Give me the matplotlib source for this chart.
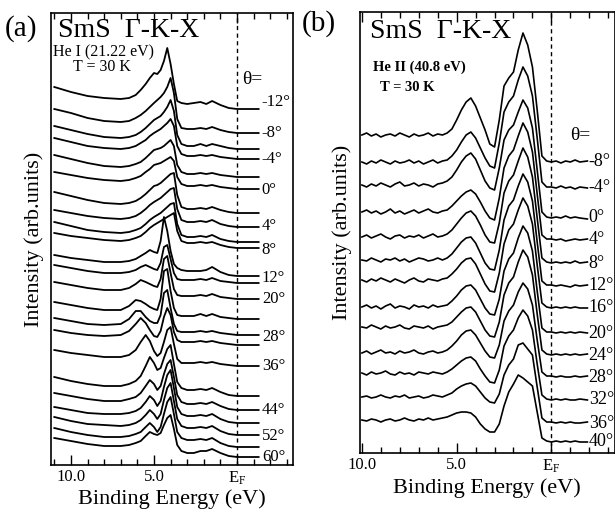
import matplotlib
matplotlib.use('Agg')
import matplotlib.pyplot as plt
import numpy as np
from matplotlib.ticker import MultipleLocator

plt.rcParams['font.family'] = ['Liberation Serif', 'DejaVu Serif']
plt.rcParams['mathtext.fontset'] = 'stix'

# ---------------- Panel (a): He I ----------------
energy_a = [11.0, 10.0, 9.0, 8.0, 7.0, 6.5, 6.1, 5.8, 5.5, 5.25, 5.0, 4.8, 4.6, 4.4,
            4.2, 4.0, 3.8, 3.6, 3.35, 3.0, 2.6, 2.2, 1.85, 1.5, 1.0, 0.5, 0.0, -1.3]
offset_a = [356, 332, 316, 306, 288, 276, 252, 238, 223, 217, 189, 182, 166, 146,
            130, 120, 99, 69, 55, 42, 30, 18, 8]
spectra_a = [
    [22, 17, 13, 11, 10, 11, 14, 19, 25, 31, 36, 35, 39, 48, 61, 45, 25, 8, 6, 5, 6, 7, 5, 8, 4, 1, 0, 0],
    [24, 20, 15, 12, 11, 12, 15, 18, 22, 26, 30, 33, 36, 40, 46, 55, 40, 14, 5, 4, 4, 5, 4, 6, 3, 1, 0, 0],
    [23, 19, 15, 12, 11, 12, 14, 17, 21, 25, 29, 31, 33, 37, 42, 49, 38, 14, 5, 3, 3, 5, 3, 5, 3, 1, 0, 0],
    [21, 17, 13, 11, 10, 11, 13, 16, 19, 23, 26, 28, 30, 33, 36, 40, 33, 13, 5, 3, 3, 4, 3, 4, 2, 1, 0, 0],
    [22, 18, 14, 11, 10, 11, 13, 15, 19, 23, 27, 28, 29, 31, 34, 37, 31, 12, 5, 3, 3, 4, 3, 4, 2, 1, 0, 0],
    [17, 14, 11, 9, 8, 9, 11, 13, 17, 20, 24, 25, 26, 28, 30, 32, 28, 12, 5, 3, 3, 4, 3, 4, 2, 1, 0, 0],
    [21, 17, 13, 10, 9, 10, 12, 15, 19, 23, 27, 28, 30, 33, 36, 39, 40, 18, 6, 4, 4, 5, 4, 6, 3, 1, 0, 0],
    [17, 14, 11, 9, 8, 9, 11, 14, 18, 22, 25, 27, 29, 32, 35, 38, 39, 18, 7, 5, 5, 6, 5, 7, 3, 1, 0, 0],
    [20, 16, 12, 10, 9, 10, 12, 14, 18, 22, 25, 27, 29, 32, 35, 38, 39, 18, 7, 5, 5, 6, 5, 7, 3, 1, 0, 0],
    [15, 12, 10, 8, 7, 8, 10, 12, 16, 20, 23, 25, 27, 29, 31, 33, 35, 17, 7, 5, 5, 6, 5, 6, 3, 1, 0, 0],
    [21, 18, 16, 14, 14, 15, 17, 20, 23, 26, 24, 23, 35, 59, 45, 25, 12, 8, 6, 5, 5, 5, 6, 9, 4, 1, 0, 0],
    [18, 15, 12, 10, 10, 11, 13, 16, 18, 16, 14, 13, 20, 36, 38, 24, 10, 4, 3, 3, 3, 4, 3, 5, 2, 1, 0, 0],
    [17, 14, 11, 9, 9, 11, 15, 19, 17, 15, 13, 12, 20, 40, 43, 26, 10, 4, 3, 3, 3, 4, 3, 5, 2, 1, 0, 0],
    [17, 14, 11, 9, 9, 13, 19, 18, 15, 12, 10, 9, 20, 48, 50, 28, 11, 4, 3, 3, 3, 5, 3, 5, 2, 1, 0, 0],
    [17, 14, 11, 10, 11, 16, 24, 24, 18, 14, 12, 12, 20, 42, 45, 27, 11, 4, 3, 3, 3, 4, 3, 4, 2, 1, 0, 0],
    [15, 12, 10, 9, 10, 14, 21, 27, 22, 15, 9, 8, 14, 28, 37, 30, 13, 5, 3, 3, 3, 4, 3, 4, 2, 1, 0, 0],
    [16, 13, 11, 9, 9, 11, 16, 24, 31, 25, 15, 10, 13, 24, 36, 39, 22, 7, 3, 3, 3, 4, 3, 4, 2, 1, 0, 0],
    [19, 15, 12, 10, 10, 12, 15, 20, 30, 39, 33, 26, 28, 38, 47, 51, 32, 14, 8, 6, 6, 7, 6, 8, 4, 1, 0, 0],
    [17, 14, 11, 9, 9, 11, 13, 17, 24, 30, 26, 20, 24, 36, 46, 50, 33, 15, 8, 6, 6, 7, 6, 8, 4, 1, 0, 0],
    [16, 13, 10, 9, 9, 10, 12, 15, 21, 27, 23, 17, 22, 36, 48, 53, 35, 16, 9, 7, 7, 8, 7, 9, 4, 1, 0, 0],
    [18, 14, 11, 10, 9, 10, 12, 15, 20, 25, 21, 16, 21, 35, 47, 52, 34, 16, 9, 7, 7, 8, 7, 9, 4, 1, 0, 0],
    [19, 15, 12, 10, 10, 11, 13, 15, 20, 24, 20, 15, 20, 33, 45, 50, 33, 15, 9, 7, 7, 8, 7, 9, 4, 1, 0, 0],
    [19, 16, 13, 11, 11, 12, 14, 16, 21, 25, 23, 22, 24, 32, 39, 42, 28, 12, 6, 4, 4, 6, 6, 8, 4, 1, 0, 0],
]
labels_a = ['-12°', '-8°', '-4°', '0°', '4°', '8°', '12°', '20°', '28°', '36°', '44°', '52°', '60°']
label_y_a = [363, 332, 306, 275, 239, 215, 187, 166, 128, 99, 55, 29, 8]

# ---------------- Panel (b): He II ----------------
energy_b = [10.0, 9.75, 9.5, 9.25, 9.0, 8.75, 8.5, 8.25, 8.0, 7.75, 7.5, 7.25, 7.0, 6.75,
            6.5, 6.25, 6.0, 5.75, 5.5, 5.25, 5.0, 4.75, 4.5, 4.25, 4.0, 3.75, 3.5, 3.25,
            3.0, 2.75, 2.5, 2.25, 2.0, 1.75, 1.5, 1.25, 1.0, 0.75, 0.5, 0.25, 0.0, -0.25,
            -0.5, -0.75, -1.0, -1.25, -1.5, -1.9]
offset_b = [291, 265, 235, 213, 190, 167, 145, 120, 98, 76, 53, 30, 11]
spectra_b = [
    [27, 29, 26, 28, 25, 27, 28, 26, 29, 27, 25, 28, 26, 27, 29, 26, 28, 27,
     29, 33, 42, 52, 60, 64, 56, 44, 32, 18, 15, 42, 76, 84, 90, 112, 129, 117, 95, 52, 6, 1,
     0, 1, -1, 1, 0, 2, 0, 1],
    [26, 24, 27, 25, 28, 26, 24, 27, 25, 26, 28, 25, 27, 24, 26, 28, 25, 27,
     28, 32, 38, 46, 53, 56, 50, 40, 30, 22, 20, 45, 76, 86, 92, 108, 121, 112, 92, 50, 6, 1,
     1, 0, 2, 0, 1, -1, 1, 0],
    [33, 31, 34, 32, 35, 33, 31, 34, 36, 32, 33, 35, 32, 34, 33, 31, 34, 35,
     37, 41, 48, 56, 62, 65, 59, 48, 37, 30, 28, 50, 78, 88, 93, 106, 118, 110, 90, 48, 6, 1,
     0, 1, 0, 2, 0, 1, 0, -1],
    [28, 30, 27, 29, 26, 28, 31, 27, 29, 26, 28, 30, 27, 29, 31, 28, 27, 29,
     30, 34, 39, 44, 48, 50, 46, 38, 29, 22, 20, 42, 72, 84, 90, 104, 117, 108, 88, 46, 5, 1,
     1, 0, 1, -1, 0, 1, 0, 1],
    [26, 28, 25, 27, 29, 26, 24, 27, 28, 25, 27, 26, 28, 25, 27, 29, 26, 27,
     29, 33, 39, 45, 50, 52, 47, 38, 28, 21, 20, 40, 70, 82, 88, 102, 115, 106, 86, 45, 5, 1,
     0, 1, 0, 1, 0, 2, 0, 1],
    [26, 25, 28, 26, 24, 27, 26, 28, 25, 27, 24, 26, 28, 27, 25, 26, 28, 26,
     28, 32, 38, 44, 48, 49, 43, 33, 23, 17, 16, 36, 66, 80, 86, 100, 112, 104, 85, 44, 5, 1,
     1, 0, 1, 0, -1, 1, 0, 1],
    [28, 26, 29, 27, 30, 28, 26, 29, 27, 25, 28, 30, 27, 26, 29, 28, 27, 29,
     30, 34, 39, 45, 49, 50, 44, 34, 24, 17, 16, 35, 64, 78, 84, 98, 110, 102, 84, 43, 5, 1,
     0, 1, 0, 1, 0, 1, 0, 0],
    [26, 28, 25, 27, 24, 27, 29, 25, 27, 26, 24, 28, 26, 27, 25, 28, 26, 27,
     28, 32, 37, 43, 47, 48, 43, 34, 25, 19, 18, 34, 62, 74, 80, 95, 107, 100, 82, 42, 5, 1,
     1, 0, 1, 0, 1, 0, 1, 0],
    [28, 27, 30, 28, 26, 29, 27, 28, 30, 27, 26, 29, 28, 27, 29, 26, 28, 29,
     30, 33, 38, 43, 47, 48, 43, 34, 25, 19, 18, 33, 60, 72, 78, 93, 105, 98, 80, 41, 5, 1,
     0, 1, 0, 1, 0, 1, 0, 1],
    [24, 26, 23, 25, 27, 24, 25, 23, 26, 24, 25, 27, 24, 23, 25, 26, 24, 25,
     27, 31, 36, 42, 46, 47, 42, 34, 26, 20, 19, 32, 56, 66, 72, 85, 94, 88, 72, 37, 5, 1,
     1, 0, 1, 0, 0, 1, 0, 1],
    [27, 25, 28, 26, 27, 29, 26, 25, 28, 26, 27, 25, 28, 27, 26, 28, 27, 26,
     28, 31, 35, 39, 42, 43, 39, 31, 24, 18, 17, 30, 54, 64, 70, 82, 90, 84, 70, 36, 5, 1,
     0, 1, 0, 1, 0, 0, 1, 0],
    [26, 27, 25, 26, 28, 26, 25, 27, 26, 28, 25, 26, 27, 25, 26, 28, 27, 26,
     28, 30, 34, 37, 39, 40, 37, 31, 25, 21, 20, 29, 48, 58, 64, 78, 80, 74, 68, 36, 5, 1,
     1, 0, 1, 0, 1, 0, 0, 1],
    [22, 21, 23, 22, 20, 22, 23, 21, 22, 24, 22, 21, 23, 22, 24, 22, 23, 24,
     25, 27, 29, 30, 30, 29, 25, 18, 13, 10, 10, 18, 36, 50, 58, 67, 64, 60, 56, 30, 4, 1,
     0, 1, 0, 1, 0, 1, 0, 0],
]
labels_b = ['-8°', '-4°', '0°', '4°', '8°', '12°', '16°', '20°', '24°', '28°', '32°', '36°', '40°']

fig = plt.figure(figsize=(6.15, 5.12), dpi=100)
axa = fig.add_axes([51 / 615, 47 / 512, 242 / 615, 452 / 512])
axb = fig.add_axes([360 / 615, 59 / 512, 254.5 / 615, 441 / 512])

for off, vals in zip(offset_a, spectra_a):
    axa.plot(energy_a, np.array(vals) + off, color='k', lw=1.3)
for lab, y in zip(labels_a, label_y_a):
    axa.text(-1.49, y, lab, fontsize=12, ha='left', va='center')
axa.set_xlim(11.2, -3.37)
axa.set_ylim(0, 452)

for off, vals in zip(offset_b, spectra_b):
    axb.plot(energy_b, np.array(vals) + off, color='k', lw=1.2)
for lab, y in zip(labels_b, offset_b):
    axb.text(-1.97, y, lab, fontsize=13, ha='left', va='center')
axb.set_xlim(10.1, -3.33)
axb.set_ylim(0, 441)

for ax in (axa, axb):
    ax.axvline(0, color='k', ls=(0, (3, 2.5)), lw=1.0, zorder=0)
    ax.set_yticks([])
    ax.set_xticks([10, 5, 0])
    ax.set_xticklabels(['10.0', '5.0', r'$\mathregular{E_F}$'])
    ax.xaxis.set_minor_locator(MultipleLocator(1))
    ax.tick_params(axis='x', which='both', direction='in', top=True, bottom=True,
                   labelsize=12, pad=3)
    ax.tick_params(axis='x', which='major', length=7, width=1)
    ax.tick_params(axis='x', which='minor', length=4, width=1)
    for s in ax.spines.values():
        s.set_linewidth(1.2)
    ax.set_xlabel('Binding Energy (eV)', fontsize=16)
    ax.set_ylabel('Intensity (arb.units)', fontsize=16)

axa.xaxis.set_label_coords(0.5, -0.054)
axb.xaxis.set_label_coords(0.5, -0.057)
axa.yaxis.set_label_coords(-0.029, 0.5)
axb.yaxis.set_label_coords(-0.031, 0.5)

axa.text(0.029, 0.947, 'SmS  Γ-K-X', transform=axa.transAxes, fontsize=20, va='baseline')
axa.text(0.008, 0.905, 'He I (21.22 eV)', transform=axa.transAxes, fontsize=11.5, va='baseline')
axa.text(0.091, 0.872, 'T = 30 K', transform=axa.transAxes, fontsize=11.5, va='baseline')
axa.text(0.789, 0.843, 'θ=', transform=axa.transAxes, fontsize=14, va='baseline')

axb.text(0.039, 0.941, 'SmS  Γ-K-X', transform=axb.transAxes, fontsize=20, va='baseline')
axb.text(0.051, 0.866, 'He II (40.8 eV)', transform=axb.transAxes, fontsize=10.5,
         fontweight='bold', va='baseline')
axb.text(0.079, 0.821, 'T = 30 K', transform=axb.transAxes, fontsize=10.5,
         fontweight='bold', va='baseline')
axb.text(0.827, 0.710, 'θ=', transform=axb.transAxes, fontsize=14, va='baseline')

fig.text(5 / 615, 1 - 36 / 512, '(a)', fontsize=21, va='baseline')
fig.text(302 / 615, 1 - 31 / 512, '(b)', fontsize=21, va='baseline')

fig.savefig('out.png', dpi=100)
